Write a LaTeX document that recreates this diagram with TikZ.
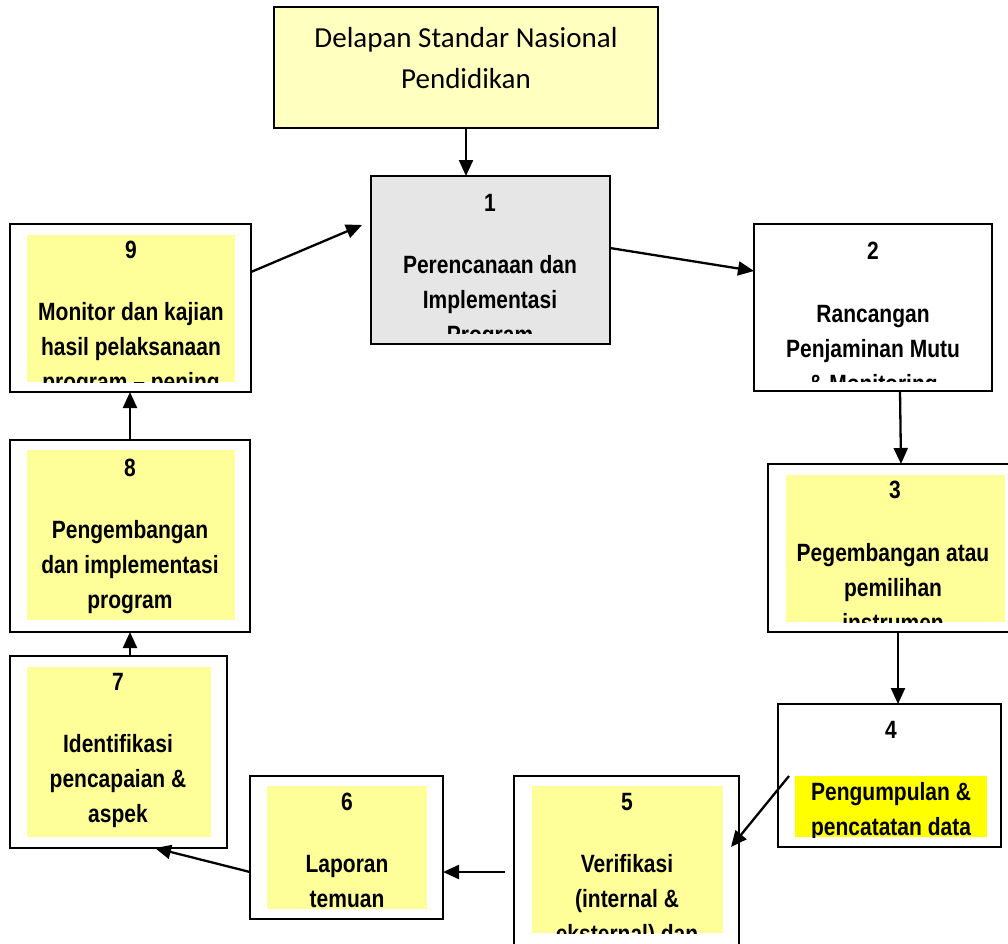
\documentclass[tikz,border=0pt]{standalone}
\usepackage{fontspec}
\setmainfont{Liberation Sans}
\newfontfamily\nb[FakeStretch=0.84]{Liberation Sans}
\newfontfamily\calfont{Carlito}
\usetikzlibrary{arrows.meta}
\definecolor{padyellow}{HTML}{FFFF99}
\definecolor{topyellow}{HTML}{FFFFC0}
\definecolor{stepgray}{HTML}{E6E6E6}
\definecolor{marker}{HTML}{FFFF00}
\begin{document}
\begin{tikzpicture}[x=1pt,y=-1pt,
  outerbox/.style={draw=black, line width=1.6pt, fill=white, inner sep=0pt, outer sep=0pt, anchor=north west},
  pad/.style={fill=padyellow, draw=none, inner sep=0pt, outer sep=0pt, anchor=north west},
  boxtext/.style={anchor=base, align=center, inner sep=0pt, font=\nb\bfseries\fontsize{25}{35}\selectfont},
  flowarrow/.style={-{Triangle[length=16pt,width=14pt]}, line width=2.3pt}
]
\clip (0,0) rectangle (1008,943);
\fill[white] (0,0) rectangle (1008,943);

% ---- source box (multi-line texts are placed by the baseline of their last line)
\node[outerbox, fill=topyellow, minimum width=384pt, minimum height=121pt] (std) at (274,7) {};
\node[anchor=base, align=center, inner sep=0pt, font=\calfont\fontsize{29}{41}\selectfont] (stdtext) at (466,88)
  {Delapan Standar Nasional\\Pendidikan};

% ---- frames
\node[outerbox, fill=stepgray, minimum width=239pt, minimum height=168pt] (b1) at (371,176) {};
\node[outerbox, minimum width=238pt, minimum height=167pt] (b2) at (754,224) {};
\node[outerbox, minimum width=260pt, minimum height=168pt] (b3) at (768,464) {};
\node[outerbox, minimum width=223pt, minimum height=143pt] (b4) at (778,704) {};
\node[outerbox, minimum width=225pt, minimum height=200pt] (b5) at (514,776) {};
\node[outerbox, minimum width=193pt, minimum height=143pt] (b6) at (250,776) {};
\node[outerbox, minimum width=217pt, minimum height=192pt] (b7) at (10,656) {};
\node[outerbox, minimum width=240pt, minimum height=192pt] (b8) at (10,440) {};
\node[outerbox, minimum width=241pt, minimum height=168pt] (b9) at (10,224) {};

% ---- yellow text panels
\node[pad, minimum width=219pt, minimum height=147pt] (p3) at (786,475) {};
\node[pad, fill=marker, minimum width=192pt, minimum height=61pt] (p4) at (795,776) {};
\node[pad, minimum width=191pt, minimum height=147pt] (p5) at (532,786) {};
\node[pad, minimum width=160pt, minimum height=123pt] (p6) at (267,786) {};
\node[pad, minimum width=184pt, minimum height=170pt] (p7) at (27,667) {};
\node[pad, minimum width=208pt, minimum height=170pt] (p8) at (27,450) {};
\node[pad, minimum width=208pt, minimum height=147pt] (p9) at (27,235) {};

% ---- step texts (clipped to their panels)
\begin{scope}
  \clip (371,176) rectangle (610,333);
  \node[boxtext] (n1) at (490,211) {1};
  \node[boxtext] (t1) at (490,343) {Perencanaan dan\\Implementasi\\Program};
\end{scope}
\begin{scope}
  \clip (754,224) rectangle (992,381);
  \node[boxtext] (n2) at (873,259) {2};
  \node[boxtext] (t2) at (873,392) {Rancangan\\Penjaminan Mutu\\\& Monitoring};
\end{scope}
\begin{scope}
  \clip (p3.north west) rectangle (p3.south east);
  \node[boxtext] (n3) at (895,498) {3};
  \node[boxtext] (t3) at (893,631) {Pegembangan atau\\pemilihan\\instrumen};
\end{scope}
\node[boxtext] (n4) at (891,738) {4};
\begin{scope}
  \clip (p4.north west) rectangle (p4.south east);
  \node[boxtext] (t4) at (891,835) {Pengumpulan \&\\pencatatan data};
\end{scope}
\begin{scope}
  \clip (p5.north west) rectangle (p5.south east);
  \node[boxtext] (n5) at (627,810) {5};
  \node[boxtext] (t5) at (627,942) {Verifikasi\\(internal \&\\eksternal) dan};
\end{scope}
\begin{scope}
  \clip (p6.north west) rectangle (p6.south east);
  \node[boxtext] (n6) at (347,810) {6};
  \node[boxtext] (t6) at (347,907) {Laporan\\temuan};
\end{scope}
\begin{scope}
  \clip (p7.north west) rectangle (p7.south east);
  \node[boxtext] (n7) at (118,690) {7};
  \node[boxtext] (t7) at (118,822) {Identifikasi\\pencapaian \&\\aspek};
\end{scope}
\begin{scope}
  \clip (p8.north west) rectangle (p8.south east);
  \node[boxtext] (n8) at (130,476) {8};
  \node[boxtext] (t8) at (130,608) {Pengembangan\\dan implementasi\\program};
\end{scope}
\begin{scope}
  \clip (p9.north west) rectangle (p9.south east);
  \node[boxtext] (n9) at (131,258) {9};
  \node[boxtext] (t9) at (131,390) {Monitor dan kajian\\hasil pelaksanaan\\program – pening};
\end{scope}

% ---- connectors
\draw[flowarrow] (std.south) -- (std.south |- b1.north);
\draw[flowarrow] ([yshift=12pt]b1.east) -- ([yshift=36.5pt]b2.west);
\draw[flowarrow] ([xshift=27pt]b2.south) -- ([xshift=3pt]b3.north);
\draw[flowarrow] (b3.south) -- (b3.south |- b4.north);
\draw[flowarrow] ([xshift=-6pt]p4.north west) -- ([xshift=-8pt,yshift=29pt]b5.east);
\draw[flowarrow] ([xshift=-9pt,yshift=4pt]b5.west) -- ([yshift=-24.5pt]b6.east);
\draw[flowarrow] ([yshift=-24.5pt]b6.west) -- ([xshift=36.5pt]b7.south);
\draw[flowarrow] (b8.south |- b7.north) -- (b8.south);
\draw[flowarrow] (b8.north) -- (b8.north |- b9.south);
\draw[flowarrow] ([yshift=36pt]b9.east) -- ([xshift=-9pt,yshift=35pt]b1.west);
\end{tikzpicture}
\end{document}
